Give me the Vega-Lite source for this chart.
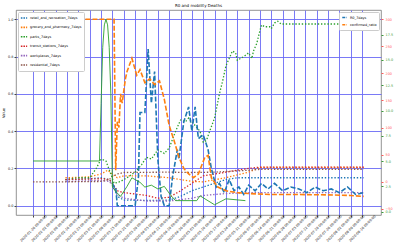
{
  "$schema": "https://vega.github.io/schema/vega-lite/v6.json",
  "width": 365,
  "height": 205,
  "autosize": "none",
  "padding": {"left": 16, "top": 10, "right": 19, "bottom": 35},
  "title": {"text": "R0 and mobility Deaths", "fontSize": 4, "fontWeight": "normal", "offset": 2, "color": "#000"},
  "config": {
    "font": "DejaVu Sans",
    "view": {"stroke": "#777", "strokeWidth": 0.8},
    "axis": {"labelFontSize": 3.4, "titleFontSize": 3.6, "titleFontWeight": "normal", "tickSize": 2, "tickColor": "#444", "domain": false, "labelPadding": 1, "labelColor": "#222"},
    "legend": {"labelFontSize": 3.4, "fillColor": "white", "strokeColor": "#ccc", "cornerRadius": 1, "padding": 2, "offset": 2, "rowPadding": 1.4, "labelOffset": 2, "symbolSize": 40, "symbolStrokeWidth": 1.6, "title": null}
  },
  "datasets": {
    "mobility": [
      {"date": "2020-02-15", "series": "retail_and_recreation_7days", "value": 0.14},
      {"date": "2020-02-23", "series": "retail_and_recreation_7days", "value": 0.142},
      {"date": "2020-03-01", "series": "retail_and_recreation_7days", "value": 0.145},
      {"date": "2020-03-08", "series": "retail_and_recreation_7days", "value": 0.15},
      {"date": "2020-03-13", "series": "retail_and_recreation_7days", "value": 0.14},
      {"date": "2020-03-15", "series": "retail_and_recreation_7days", "value": 0.12},
      {"date": "2020-03-18", "series": "retail_and_recreation_7days", "value": 0.05},
      {"date": "2020-03-22", "series": "retail_and_recreation_7days", "value": 0.03},
      {"date": "2020-04-05", "series": "retail_and_recreation_7days", "value": 0.028},
      {"date": "2020-04-19", "series": "retail_and_recreation_7days", "value": 0.03},
      {"date": "2020-04-26", "series": "retail_and_recreation_7days", "value": 0.05},
      {"date": "2020-05-03", "series": "retail_and_recreation_7days", "value": 0.08},
      {"date": "2020-05-10", "series": "retail_and_recreation_7days", "value": 0.1},
      {"date": "2020-05-17", "series": "retail_and_recreation_7days", "value": 0.12},
      {"date": "2020-05-24", "series": "retail_and_recreation_7days", "value": 0.14},
      {"date": "2020-05-31", "series": "retail_and_recreation_7days", "value": 0.15},
      {"date": "2020-06-14", "series": "retail_and_recreation_7days", "value": 0.15},
      {"date": "2020-08-17", "series": "retail_and_recreation_7days", "value": 0.15},

      {"date": "2020-02-15", "series": "grocery_and_pharmacy_7days", "value": 0.15},
      {"date": "2020-02-23", "series": "grocery_and_pharmacy_7days", "value": 0.152},
      {"date": "2020-03-01", "series": "grocery_and_pharmacy_7days", "value": 0.155},
      {"date": "2020-03-08", "series": "grocery_and_pharmacy_7days", "value": 0.17},
      {"date": "2020-03-12", "series": "grocery_and_pharmacy_7days", "value": 0.19},
      {"date": "2020-03-15", "series": "grocery_and_pharmacy_7days", "value": 0.17},
      {"date": "2020-03-18", "series": "grocery_and_pharmacy_7days", "value": 0.15},
      {"date": "2020-03-22", "series": "grocery_and_pharmacy_7days", "value": 0.16},
      {"date": "2020-04-05", "series": "grocery_and_pharmacy_7days", "value": 0.16},
      {"date": "2020-04-19", "series": "grocery_and_pharmacy_7days", "value": 0.15},
      {"date": "2020-05-03", "series": "grocery_and_pharmacy_7days", "value": 0.13},
      {"date": "2020-05-10", "series": "grocery_and_pharmacy_7days", "value": 0.128},
      {"date": "2020-05-24", "series": "grocery_and_pharmacy_7days", "value": 0.15},
      {"date": "2020-06-07", "series": "grocery_and_pharmacy_7days", "value": 0.18},
      {"date": "2020-06-14", "series": "grocery_and_pharmacy_7days", "value": 0.205},
      {"date": "2020-08-17", "series": "grocery_and_pharmacy_7days", "value": 0.205},

      {"date": "2020-02-15", "series": "parks_7days", "value": 0.14},
      {"date": "2020-02-23", "series": "parks_7days", "value": 0.15},
      {"date": "2020-03-01", "series": "parks_7days", "value": 0.15},
      {"date": "2020-03-05", "series": "parks_7days", "value": 0.2},
      {"date": "2020-03-08", "series": "parks_7days", "value": 0.25},
      {"date": "2020-03-11", "series": "parks_7days", "value": 0.24},
      {"date": "2020-03-14", "series": "parks_7days", "value": 0.17},
      {"date": "2020-03-16", "series": "parks_7days", "value": 0.12},
      {"date": "2020-03-20", "series": "parks_7days", "value": 0.13},
      {"date": "2020-03-24", "series": "parks_7days", "value": 0.15},
      {"date": "2020-03-29", "series": "parks_7days", "value": 0.18},
      {"date": "2020-04-02", "series": "parks_7days", "value": 0.22},
      {"date": "2020-04-05", "series": "parks_7days", "value": 0.26},
      {"date": "2020-04-08", "series": "parks_7days", "value": 0.25},
      {"date": "2020-04-12", "series": "parks_7days", "value": 0.3},
      {"date": "2020-04-16", "series": "parks_7days", "value": 0.28},
      {"date": "2020-04-19", "series": "parks_7days", "value": 0.31},
      {"date": "2020-04-23", "series": "parks_7days", "value": 0.4},
      {"date": "2020-04-26", "series": "parks_7days", "value": 0.46},
      {"date": "2020-04-29", "series": "parks_7days", "value": 0.45},
      {"date": "2020-05-01", "series": "parks_7days", "value": 0.47},
      {"date": "2020-05-05", "series": "parks_7days", "value": 0.43},
      {"date": "2020-05-08", "series": "parks_7days", "value": 0.4},
      {"date": "2020-05-10", "series": "parks_7days", "value": 0.34},
      {"date": "2020-05-12", "series": "parks_7days", "value": 0.35},
      {"date": "2020-05-14", "series": "parks_7days", "value": 0.4},
      {"date": "2020-05-17", "series": "parks_7days", "value": 0.47},
      {"date": "2020-05-20", "series": "parks_7days", "value": 0.6},
      {"date": "2020-05-22", "series": "parks_7days", "value": 0.67},
      {"date": "2020-05-24", "series": "parks_7days", "value": 0.75},
      {"date": "2020-05-26", "series": "parks_7days", "value": 0.79},
      {"date": "2020-05-28", "series": "parks_7days", "value": 0.83},
      {"date": "2020-05-30", "series": "parks_7days", "value": 0.82},
      {"date": "2020-05-31", "series": "parks_7days", "value": 0.78},
      {"date": "2020-06-02", "series": "parks_7days", "value": 0.79},
      {"date": "2020-06-04", "series": "parks_7days", "value": 0.8},
      {"date": "2020-06-07", "series": "parks_7days", "value": 0.82},
      {"date": "2020-06-09", "series": "parks_7days", "value": 0.79},
      {"date": "2020-06-10", "series": "parks_7days", "value": 0.83},
      {"date": "2020-06-12", "series": "parks_7days", "value": 0.87},
      {"date": "2020-06-14", "series": "parks_7days", "value": 0.94},
      {"date": "2020-06-15", "series": "parks_7days", "value": 0.97},
      {"date": "2020-06-17", "series": "parks_7days", "value": 0.96},
      {"date": "2020-06-20", "series": "parks_7days", "value": 0.96},
      {"date": "2020-06-21", "series": "parks_7days", "value": 0.95},
      {"date": "2020-06-23", "series": "parks_7days", "value": 0.98},
      {"date": "2020-06-25", "series": "parks_7days", "value": 0.99},
      {"date": "2020-06-27", "series": "parks_7days", "value": 0.975},
      {"date": "2020-08-17", "series": "parks_7days", "value": 0.975},

      {"date": "2020-02-15", "series": "transit_stations_7days", "value": 0.14},
      {"date": "2020-03-01", "series": "transit_stations_7days", "value": 0.143},
      {"date": "2020-03-08", "series": "transit_stations_7days", "value": 0.145},
      {"date": "2020-03-13", "series": "transit_stations_7days", "value": 0.14},
      {"date": "2020-03-15", "series": "transit_stations_7days", "value": 0.12},
      {"date": "2020-03-18", "series": "transit_stations_7days", "value": 0.08},
      {"date": "2020-03-22", "series": "transit_stations_7days", "value": 0.07},
      {"date": "2020-04-05", "series": "transit_stations_7days", "value": 0.055},
      {"date": "2020-04-12", "series": "transit_stations_7days", "value": 0.04},
      {"date": "2020-04-19", "series": "transit_stations_7days", "value": 0.045},
      {"date": "2020-04-26", "series": "transit_stations_7days", "value": 0.08},
      {"date": "2020-05-03", "series": "transit_stations_7days", "value": 0.12},
      {"date": "2020-05-10", "series": "transit_stations_7days", "value": 0.16},
      {"date": "2020-05-24", "series": "transit_stations_7days", "value": 0.18},
      {"date": "2020-06-07", "series": "transit_stations_7days", "value": 0.2},
      {"date": "2020-06-14", "series": "transit_stations_7days", "value": 0.207},
      {"date": "2020-08-17", "series": "transit_stations_7days", "value": 0.207},

      {"date": "2020-02-15", "series": "workplaces_7days", "value": 0.13},
      {"date": "2020-03-08", "series": "workplaces_7days", "value": 0.135},
      {"date": "2020-03-13", "series": "workplaces_7days", "value": 0.13},
      {"date": "2020-03-15", "series": "workplaces_7days", "value": 0.11},
      {"date": "2020-03-18", "series": "workplaces_7days", "value": 0.06},
      {"date": "2020-03-22", "series": "workplaces_7days", "value": 0.04},
      {"date": "2020-04-05", "series": "workplaces_7days", "value": 0.025},
      {"date": "2020-04-19", "series": "workplaces_7days", "value": 0.025},
      {"date": "2020-05-03", "series": "workplaces_7days", "value": 0.04},
      {"date": "2020-05-10", "series": "workplaces_7days", "value": 0.055},
      {"date": "2020-05-24", "series": "workplaces_7days", "value": 0.065},
      {"date": "2020-06-07", "series": "workplaces_7days", "value": 0.07},
      {"date": "2020-08-17", "series": "workplaces_7days", "value": 0.07},

      {"date": "2020-01-26", "series": "residential_7days", "value": 0.128},
      {"date": "2020-02-15", "series": "residential_7days", "value": 0.128},
      {"date": "2020-03-08", "series": "residential_7days", "value": 0.13},
      {"date": "2020-03-13", "series": "residential_7days", "value": 0.14},
      {"date": "2020-03-15", "series": "residential_7days", "value": 0.155},
      {"date": "2020-03-18", "series": "residential_7days", "value": 0.17},
      {"date": "2020-03-22", "series": "residential_7days", "value": 0.178},
      {"date": "2020-04-19", "series": "residential_7days", "value": 0.18},
      {"date": "2020-05-03", "series": "residential_7days", "value": 0.178},
      {"date": "2020-05-17", "series": "residential_7days", "value": 0.18},
      {"date": "2020-06-07", "series": "residential_7days", "value": 0.19},
      {"date": "2020-06-14", "series": "residential_7days", "value": 0.195},
      {"date": "2020-08-17", "series": "residential_7days", "value": 0.195}
    ],
    "ratio": [
      {"date": "2020-03-15", "series": "R0_7days", "value": -3.2},
      {"date": "2020-03-16", "series": "R0_7days", "value": -10},
      {"date": "2020-03-17", "series": "R0_7days", "value": -10},
      {"date": "2020-03-18", "series": "R0_7days", "value": -44.5},
      {"date": "2020-03-29", "series": "R0_7days", "value": -44.5},
      {"date": "2020-03-31", "series": "R0_7days", "value": 7.2},
      {"date": "2020-04-01", "series": "R0_7days", "value": 127.8},
      {"date": "2020-04-04", "series": "R0_7days", "value": 127.8},
      {"date": "2020-04-06", "series": "R0_7days", "value": 244.9},
      {"date": "2020-04-08", "series": "R0_7days", "value": 145},
      {"date": "2020-04-10", "series": "R0_7days", "value": 203.5},
      {"date": "2020-04-12", "series": "R0_7days", "value": 41.6},
      {"date": "2020-04-14", "series": "R0_7days", "value": -27.3},
      {"date": "2020-04-16", "series": "R0_7days", "value": -44.5},
      {"date": "2020-04-19", "series": "R0_7days", "value": -44.5},
      {"date": "2020-04-21", "series": "R0_7days", "value": 7.2},
      {"date": "2020-04-24", "series": "R0_7days", "value": 58.9},
      {"date": "2020-04-25", "series": "R0_7days", "value": 41.6},
      {"date": "2020-04-28", "series": "R0_7days", "value": 110.5},
      {"date": "2020-05-01", "series": "R0_7days", "value": 138.1},
      {"date": "2020-05-03", "series": "R0_7days", "value": 93.3},
      {"date": "2020-05-05", "series": "R0_7days", "value": 138.1},
      {"date": "2020-05-07", "series": "R0_7days", "value": 79.5},
      {"date": "2020-05-10", "series": "R0_7days", "value": 86.4},
      {"date": "2020-05-13", "series": "R0_7days", "value": 58.9},
      {"date": "2020-05-15", "series": "R0_7days", "value": 24.4},
      {"date": "2020-05-18", "series": "R0_7days", "value": -10},
      {"date": "2020-05-20", "series": "R0_7days", "value": -3.2},
      {"date": "2020-05-23", "series": "R0_7days", "value": -20.4},
      {"date": "2020-05-26", "series": "R0_7days", "value": 3.7},
      {"date": "2020-05-29", "series": "R0_7days", "value": -16.9},
      {"date": "2020-06-01", "series": "R0_7days", "value": -10},
      {"date": "2020-06-04", "series": "R0_7days", "value": -23.8},
      {"date": "2020-06-07", "series": "R0_7days", "value": -6.6},
      {"date": "2020-06-11", "series": "R0_7days", "value": -16.9},
      {"date": "2020-06-15", "series": "R0_7days", "value": -3.2},
      {"date": "2020-06-19", "series": "R0_7days", "value": -13.5},
      {"date": "2020-06-23", "series": "R0_7days", "value": -3.2},
      {"date": "2020-06-28", "series": "R0_7days", "value": -16.9},
      {"date": "2020-07-03", "series": "R0_7days", "value": -10},
      {"date": "2020-07-08", "series": "R0_7days", "value": -13.5},
      {"date": "2020-07-13", "series": "R0_7days", "value": -20.4},
      {"date": "2020-07-18", "series": "R0_7days", "value": -10},
      {"date": "2020-07-23", "series": "R0_7days", "value": -16.9},
      {"date": "2020-07-28", "series": "R0_7days", "value": -13.5},
      {"date": "2020-08-02", "series": "R0_7days", "value": -20.4},
      {"date": "2020-08-07", "series": "R0_7days", "value": -10},
      {"date": "2020-08-12", "series": "R0_7days", "value": -23.8},
      {"date": "2020-08-17", "series": "R0_7days", "value": -20.4},

      {"date": "2020-02-23", "series": "confirmed_ratio", "value": 300},
      {"date": "2020-03-16", "series": "confirmed_ratio", "value": 300},
      {"date": "2020-03-17", "series": "confirmed_ratio", "value": 21},
      {"date": "2020-03-18", "series": "confirmed_ratio", "value": 110.5},
      {"date": "2020-03-19", "series": "confirmed_ratio", "value": 100.2},
      {"date": "2020-03-20", "series": "confirmed_ratio", "value": 162.2},
      {"date": "2020-03-21", "series": "confirmed_ratio", "value": 145},
      {"date": "2020-03-23", "series": "confirmed_ratio", "value": 189.8},
      {"date": "2020-03-24", "series": "confirmed_ratio", "value": 203.5},
      {"date": "2020-03-27", "series": "confirmed_ratio", "value": 227.7},
      {"date": "2020-03-30", "series": "confirmed_ratio", "value": 196.7},
      {"date": "2020-04-01", "series": "confirmed_ratio", "value": 207},
      {"date": "2020-04-04", "series": "confirmed_ratio", "value": 182.9},
      {"date": "2020-04-07", "series": "confirmed_ratio", "value": 189.8},
      {"date": "2020-04-10", "series": "confirmed_ratio", "value": 179.4},
      {"date": "2020-04-13", "series": "confirmed_ratio", "value": 186.3},
      {"date": "2020-04-16", "series": "confirmed_ratio", "value": 151.9},
      {"date": "2020-04-19", "series": "confirmed_ratio", "value": 103.6},
      {"date": "2020-04-22", "series": "confirmed_ratio", "value": 76.1},
      {"date": "2020-04-25", "series": "confirmed_ratio", "value": 45.1},
      {"date": "2020-04-28", "series": "confirmed_ratio", "value": 24.4},
      {"date": "2020-05-01", "series": "confirmed_ratio", "value": 14.1},
      {"date": "2020-05-04", "series": "confirmed_ratio", "value": 7.2},
      {"date": "2020-05-07", "series": "confirmed_ratio", "value": 14.1},
      {"date": "2020-05-11", "series": "confirmed_ratio", "value": 45.1},
      {"date": "2020-05-13", "series": "confirmed_ratio", "value": 48.5},
      {"date": "2020-05-15", "series": "confirmed_ratio", "value": 7.2},
      {"date": "2020-05-19", "series": "confirmed_ratio", "value": -10},
      {"date": "2020-05-24", "series": "confirmed_ratio", "value": -16.9},
      {"date": "2020-05-31", "series": "confirmed_ratio", "value": -20.4},
      {"date": "2020-06-07", "series": "confirmed_ratio", "value": -22.1},
      {"date": "2020-06-21", "series": "confirmed_ratio", "value": -23.8},
      {"date": "2020-07-05", "series": "confirmed_ratio", "value": -23.8},
      {"date": "2020-07-26", "series": "confirmed_ratio", "value": -24.5},
      {"date": "2020-08-09", "series": "confirmed_ratio", "value": -25.6},
      {"date": "2020-08-17", "series": "confirmed_ratio", "value": -27.3}
    ],
    "r0": [
      {"date": "2020-01-26", "value": 5.01},
      {"date": "2020-03-07", "value": 5.01},
      {"date": "2020-03-08", "value": 10.7},
      {"date": "2020-03-09", "value": 16.25},
      {"date": "2020-03-10", "value": 18.47},
      {"date": "2020-03-11", "value": 19.02},
      {"date": "2020-03-12", "value": 18.47},
      {"date": "2020-03-13", "value": 16.25},
      {"date": "2020-03-14", "value": 11.65},
      {"date": "2020-03-15", "value": 2.43},
      {"date": "2020-03-17", "value": 2.0},
      {"date": "2020-03-20", "value": 1.51},
      {"date": "2020-03-24", "value": 2.5},
      {"date": "2020-03-27", "value": 3.35},
      {"date": "2020-04-01", "value": 2.9},
      {"date": "2020-04-04", "value": 2.43},
      {"date": "2020-04-08", "value": 2.62},
      {"date": "2020-04-12", "value": 2.25},
      {"date": "2020-04-16", "value": 2.5},
      {"date": "2020-04-20", "value": 1.6},
      {"date": "2020-04-23", "value": 1.09},
      {"date": "2020-05-06", "value": 1.09},
      {"date": "2020-05-08", "value": 1.57},
      {"date": "2020-05-17", "value": 0.68},
      {"date": "2020-05-24", "value": 1.27},
      {"date": "2020-06-05", "value": 1.09}
    ]
  },
  "encoding": {
    "x": {
      "field": "date",
      "type": "temporal",
      "scale": {"type": "utc", "domain": [{"year": 2020, "month": 1, "date": 15, "hours": 12, "utc": true}, {"year": 2020, "month": 8, "date": 27, "hours": 16, "utc": true}]},
      "axis": {
        "title": null,
        "format": "%Y-%m-%d %H:%M:%S",
        "labelAngle": -45,
        "labelAlign": "center",
        "labelBaseline": "middle",
        "labelPadding": 11,
        "labelFontSize": 3.4,
        "labelOverlap": false,
        "grid": true,
        "gridColor": "#6b6bf5",
        "gridWidth": 0.9,
        "values": [
          {"year": 2020, "month": 1, "date": 26, "utc": true},
          {"year": 2020, "month": 2, "date": 2, "utc": true},
          {"year": 2020, "month": 2, "date": 9, "utc": true},
          {"year": 2020, "month": 2, "date": 16, "utc": true},
          {"year": 2020, "month": 2, "date": 23, "utc": true},
          {"year": 2020, "month": 3, "date": 1, "utc": true},
          {"year": 2020, "month": 3, "date": 8, "utc": true},
          {"year": 2020, "month": 3, "date": 15, "utc": true},
          {"year": 2020, "month": 3, "date": 22, "utc": true},
          {"year": 2020, "month": 3, "date": 29, "utc": true},
          {"year": 2020, "month": 4, "date": 5, "utc": true},
          {"year": 2020, "month": 4, "date": 12, "utc": true},
          {"year": 2020, "month": 4, "date": 19, "utc": true},
          {"year": 2020, "month": 4, "date": 26, "utc": true},
          {"year": 2020, "month": 5, "date": 3, "utc": true},
          {"year": 2020, "month": 5, "date": 10, "utc": true},
          {"year": 2020, "month": 5, "date": 17, "utc": true},
          {"year": 2020, "month": 5, "date": 24, "utc": true},
          {"year": 2020, "month": 5, "date": 31, "utc": true},
          {"year": 2020, "month": 6, "date": 7, "utc": true},
          {"year": 2020, "month": 6, "date": 14, "utc": true},
          {"year": 2020, "month": 6, "date": 21, "utc": true},
          {"year": 2020, "month": 6, "date": 28, "utc": true},
          {"year": 2020, "month": 7, "date": 5, "utc": true},
          {"year": 2020, "month": 7, "date": 12, "utc": true},
          {"year": 2020, "month": 7, "date": 19, "utc": true},
          {"year": 2020, "month": 7, "date": 26, "utc": true},
          {"year": 2020, "month": 8, "date": 2, "utc": true},
          {"year": 2020, "month": 8, "date": 9, "utc": true},
          {"year": 2020, "month": 8, "date": 16, "utc": true}
        ]
      }
    }
  },
  "layer": [
    {
      "data": {"name": "mobility"},
      "mark": {"type": "line", "strokeDash": [1.4, 1.8], "strokeWidth": 1.3},
      "encoding": {
        "y": {"field": "value", "type": "quantitative", "scale": {"domain": [-0.05, 1.05], "nice": false, "zero": false},
              "axis": {"title": "Value", "values": [0, 0.2, 0.4, 0.6, 0.8, 1.0], "format": ".1f", "grid": true, "gridColor": "#6b6bf5", "gridWidth": 0.9, "titlePadding": 2}},
        "color": {"field": "series", "type": "nominal",
                  "scale": {"domain": ["retail_and_recreation_7days", "grocery_and_pharmacy_7days", "parks_7days", "transit_stations_7days", "workplaces_7days", "residential_7days"],
                            "range": ["#1f77b4", "#ff7f0e", "#2ca02c", "#d62728", "#9467bd", "#8c564b"]},
                  "legend": {"orient": "top-left", "symbolDash": [1.6, 1]}}
      }
    },
    {
      "data": {"name": "ratio"},
      "mark": {"type": "line", "strokeDash": [5, 2], "strokeWidth": 1.6},
      "encoding": {
        "y": {"field": "value", "type": "quantitative", "scale": {"domain": [-61.7, 317.2], "nice": false, "zero": false},
              "axis": {"orient": "right", "title": null, "values": [-50, 0, 50, 100, 150, 200, 250, 300], "labelColor": "#ff5a5a", "tickColor": "#ff5a5a", "grid": false, "labelPadding": 2}},
        "color": {"field": "series", "type": "nominal",
                  "scale": {"domain": ["R0_7days", "confirmed_ratio"], "range": ["#1f77b4", "#ff7f0e"]},
                  "legend": {"orient": "top-right", "symbolDash": [3, 1], "symbolSize": 20, "rowPadding": 0.3, "labelBaseline": "middle"}}
      }
    },
    {
      "data": {"name": "r0"},
      "mark": {"type": "line", "color": "#2ca02c", "strokeWidth": 0.9},
      "encoding": {
        "y": {"field": "value", "type": "quantitative", "scale": {"domain": [-0.33, 19.94], "nice": false, "zero": false},
              "axis": {"orient": "right", "title": null, "values": [0, 2.5, 5, 7.5, 10, 12.5, 15, 17.5], "format": ".1f", "labelColor": "#3a9a3a", "tickColor": "#3a9a3a", "grid": false, "labelPadding": 2}}
      }
    }
  ],
  "resolve": {"scale": {"y": "independent", "color": "independent"}, "axis": {"y": "independent"}, "legend": {"color": "independent"}}
}
